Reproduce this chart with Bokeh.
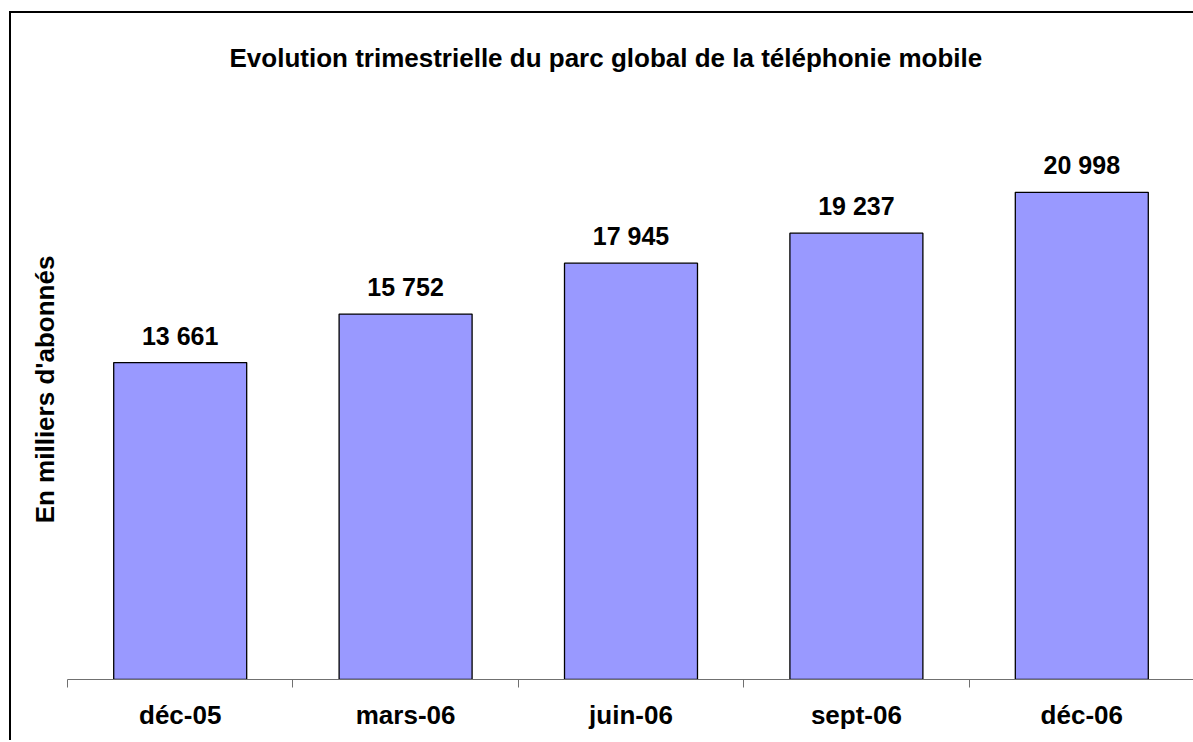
import numpy as np
from bokeh.plotting import figure
from bokeh.models import ColumnDataSource, Range1d, FixedTicker, Title
from bokeh.core.properties import value
from bokeh.embed import file_html
from bokeh.resources import INLINE

# ---- data ----
categories = ["déc-05", "mars-06", "juin-06", "sept-06", "déc-06"]
values = [13661, 15752, 17945, 19237, 20998]
title_text = "Evolution trimestrielle du parc global de la téléphonie mobile"
y_label = "En milliers d'abonnés"

FONT = "Liberation Sans"

n = len(categories)
xc = np.arange(n) + 0.5
labels = [f"{v:,}".replace(",", " ") for v in values]
src = ColumnDataSource(dict(x=xc, top=values, lab=labels))

p = figure(width=1182, height=727, output_backend="svg", toolbar_location=None,
           x_range=Range1d(0, n), y_range=Range1d(0, 25000),
           min_border_left=56, min_border_right=1, min_border_top=86, min_border_bottom=63,
           tools="")
p.styles = {"border-top": "2px solid black", "border-left": "2px solid black",
            "margin-left": "9px", "margin-top": "11px", "box-sizing": "content-box"}
p.outline_line_color = None
p.xgrid.visible = False
p.ygrid.visible = False
p.background_fill_color = "white"
p.border_fill_color = "white"

p.vbar(x="x", top="top", width=0.59, bottom=0, source=src,
       fill_color="#9999FF", line_color="black", line_width=1.3)

p.text(x="x", y="top", text="lab", source=src, text_align="center",
       text_baseline="alphabetic", y_offset=-27, text_font=value(FONT),
       text_font_style="bold", text_font_size="25px", text_color="black")

# x axis: category boundaries as (minor) ticks, labels at centres
xa = p.xaxis[0]
xa.ticker = FixedTicker(ticks=list(xc), minor_ticks=list(range(n + 1)))
xa.major_label_overrides = {float(x): c for x, c in zip(xc, categories)}
xa.major_tick_out = 0
xa.major_tick_in = 0
xa.minor_tick_out = 8
xa.minor_tick_in = 0
xa.minor_tick_line_color = "#707070"
xa.axis_line_color = "#707070"
xa.axis_line_width = 1.2
xa.major_label_standoff = 12
xa.major_label_text_font = FONT
xa.major_label_text_font_style = "bold"
xa.major_label_text_font_size = "26px"
xa.major_label_text_color = "black"

# y axis: no ticks or tick labels, only its title is visible
ya = p.yaxis[0]
ya.ticker = FixedTicker(ticks=[])
ya.axis_line_color = None
ya.major_tick_line_color = None
ya.minor_tick_line_color = None
ya.major_tick_out = 0
ya.major_label_standoff = 0
ya.axis_label = y_label
ya.axis_label_standoff = 8
ya.axis_label_text_font = FONT
ya.axis_label_text_font_style = "bold"
ya.axis_label_text_font_size = "26px"
ya.axis_label_text_color = "black"

title = Title(text=title_text, align="left", offset=162, standoff=54,
              text_font=FONT, text_font_style="bold", text_font_size="26px",
              text_color="black")
p.add_layout(title, "above")

open("out.html", "w").write(file_html(p, INLINE))
